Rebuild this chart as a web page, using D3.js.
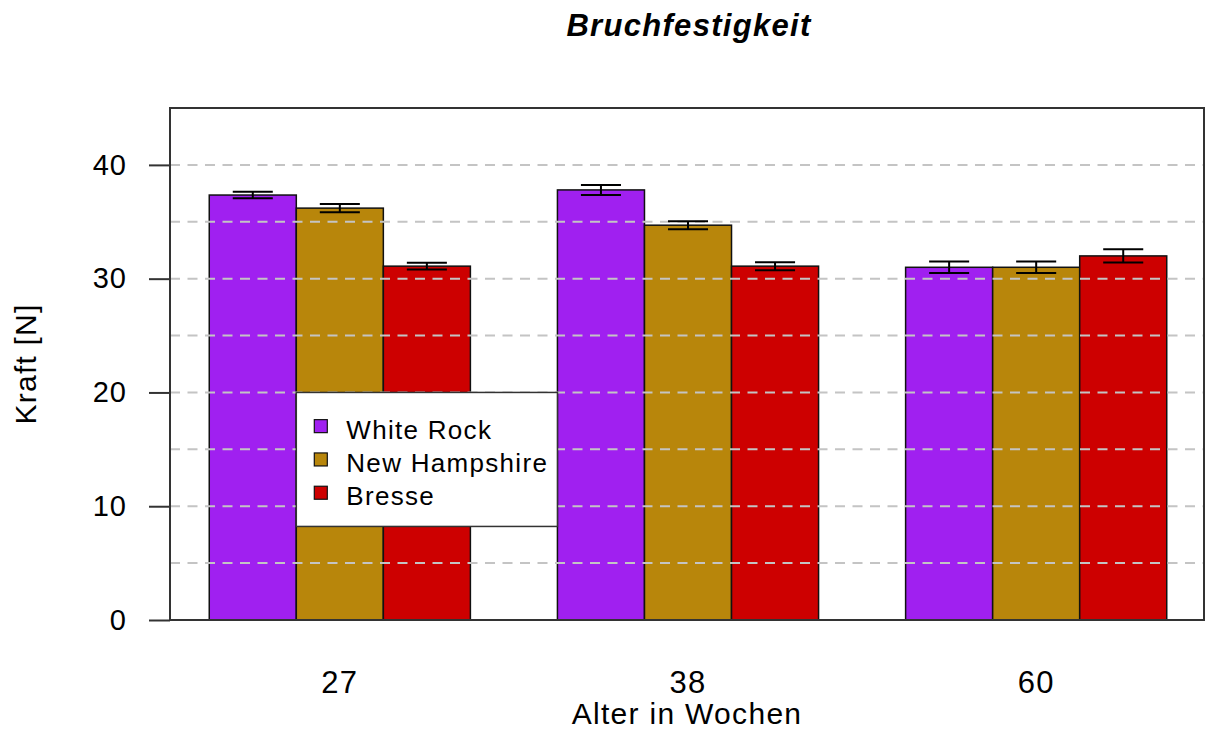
<!DOCTYPE html>
<html>
<head>
<meta charset="utf-8">
<script src="https://cdn.jsdelivr.net/npm/d3@7"></script>
<style>
  html, body { margin: 0; padding: 0; background: #ffffff; }
  svg { display: block; }
  text { font-family: "Liberation Sans", Arial, sans-serif; fill: #000; }
</style>
</head>
<body>
<div id="chart"></div>
<script>
// ---- data ----
const groups = ["27", "38", "60"];
const series = ["White Rock", "New Hampshire", "Bresse"];
const seriesColors = ["#A020F0", "#B8860B", "#CD0000"];
const whiteRock = [37.35, 37.8, 31.0];
const newHampshire = [36.2, 34.7, 31.0];
const bresse = [31.1, 31.1, 32.0];
const whiteRockErr = [0.29, 0.44, 0.5];
const newHampshireErr = [0.37, 0.35, 0.5];
const bresseErr = [0.3, 0.35, 0.58];
const yTickValues = [0, 10, 20, 30, 40];
const gridValues = [5, 10, 15, 20, 25, 30, 35, 40];
const titleText = "Bruchfestigkeit";
const xTitle = "Alter in Wochen";
const yTitle = "Kraft [N]";

const seriesValues = [whiteRock, newHampshire, bresse];
const seriesErrors = [whiteRockErr, newHampshireErr, bresseErr];
const rows = [];
groups.forEach((g, gi) => {
  series.forEach((s, si) => {
    rows.push({ group: g, series: s, color: seriesColors[si],
                value: seriesValues[si][gi], err: seriesErrors[si][gi] });
  });
});

// ---- layout ----
const W = 1205, H = 731;
const plot = { left: 170, right: 1204, top: 108, bottom: 620 };

const svg = d3.select("#chart").append("svg")
  .attr("width", W).attr("height", H);

const x0 = d3.scaleBand().domain(groups)
  .range([172, 1204]).paddingInner(0.25).paddingOuter(0.107);
const x1 = d3.scaleBand().domain(series).range([0, x0.bandwidth()]);
const y = d3.scaleLinear().domain([0, 45]).range([plot.bottom, plot.top]);

// ---- bars ----
svg.append("g").selectAll("rect").data(rows).join("rect")
  .attr("x", d => x0(d.group) + x1(d.series))
  .attr("y", d => y(d.value))
  .attr("width", x1.bandwidth())
  .attr("height", d => y(0) - y(d.value))
  .attr("fill", d => d.color)
  .attr("stroke", "#111")
  .attr("stroke-width", 1.5);

// ---- grid lines (drawn over bars) ----
svg.append("g").selectAll("line").data(gridValues).join("line")
  .attr("x1", plot.left).attr("x2", plot.right)
  .attr("y1", d => y(d)).attr("y2", d => y(d))
  .attr("stroke", "#c4c4c4")
  .attr("stroke-width", 2)
  .attr("stroke-dasharray", "10,7.5");

// ---- error bars ----
const capHalf = x1.bandwidth() * 0.23;
const eb = svg.append("g").attr("stroke", "#000").attr("stroke-width", 2);
rows.forEach(d => {
  const cx = x0(d.group) + x1(d.series) + x1.bandwidth() / 2;
  eb.append("line").attr("x1", cx).attr("x2", cx)
    .attr("y1", y(d.value - d.err)).attr("y2", y(d.value + d.err));
  eb.append("line").attr("x1", cx - capHalf).attr("x2", cx + capHalf)
    .attr("y1", y(d.value + d.err)).attr("y2", y(d.value + d.err));
  eb.append("line").attr("x1", cx - capHalf).attr("x2", cx + capHalf)
    .attr("y1", y(d.value - d.err)).attr("y2", y(d.value - d.err));
});

// ---- box ----
svg.append("rect")
  .attr("x", plot.left).attr("y", plot.top)
  .attr("width", plot.right - plot.left).attr("height", plot.bottom - plot.top)
  .attr("fill", "none").attr("stroke", "#333").attr("stroke-width", 2);

// ---- y axis ----
const yAxis = d3.axisLeft(y).tickValues(yTickValues).tickSize(21).tickPadding(22)
  .tickFormat(d3.format("d"));
const yg = svg.append("g").attr("transform", `translate(${plot.left},0)`).call(yAxis);
yg.select(".domain").remove();
yg.selectAll(".tick line").attr("stroke", "#333").attr("stroke-width", 2);
yg.selectAll(".tick text")
  .style("font-family", "'Liberation Sans', Arial, sans-serif")
  .style("font-size", "29px").style("letter-spacing", "1px").attr("fill", "#000");

// ---- x axis labels ----
const xAxis = d3.axisBottom(x0).tickSize(0).tickPadding(51);
const xg = svg.append("g").attr("transform", `translate(0,${plot.bottom})`).call(xAxis);
xg.select(".domain").remove();
xg.selectAll(".tick text")
  .style("font-family", "'Liberation Sans', Arial, sans-serif")
  .style("font-size", "31px").style("letter-spacing", "1.3px").attr("fill", "#000");

// ---- titles ----
const cx = (plot.left + plot.right) / 2;
svg.append("text").attr("x", cx + 2).attr("y", 36)
  .attr("text-anchor", "middle")
  .style("font-size", "31px").style("font-weight", "bold").style("font-style", "italic")
  .style("letter-spacing", "1.3px")
  .text(titleText);

svg.append("text").attr("x", cx).attr("y", 724)
  .attr("text-anchor", "middle")
  .style("font-size", "30px").style("letter-spacing", "1.3px")
  .text(xTitle);

svg.append("text")
  .attr("transform", `translate(36,${(plot.top + plot.bottom) / 2}) rotate(-90)`)
  .attr("text-anchor", "middle")
  .style("font-size", "30px").style("letter-spacing", "1.2px")
  .text(yTitle);

// ---- legend ----
const lgLeft = x0(groups[0]) + x1(series[1]);
const lgTop = y(20);
const lgRight = x0(groups[1]);
const lg = svg.append("g");
lg.append("rect")
  .attr("x", lgLeft).attr("y", lgTop)
  .attr("width", lgRight - lgLeft).attr("height", 134)
  .attr("fill", "#fff").attr("stroke", "#333").attr("stroke-width", 1.5);
series.forEach((s, i) => {
  const cy = lgTop + 33.7 + i * 33.3;
  lg.append("rect")
    .attr("x", lgLeft + 18).attr("y", cy - 6.5)
    .attr("width", 13).attr("height", 13)
    .attr("fill", seriesColors[i]).attr("stroke", "#111").attr("stroke-width", 1.2);
  lg.append("text")
    .attr("x", lgLeft + 50).attr("y", cy + 12.6)
    .style("font-size", "26px").style("letter-spacing", "1.3px")
    .text(s);
});
</script>
</body>
</html>
